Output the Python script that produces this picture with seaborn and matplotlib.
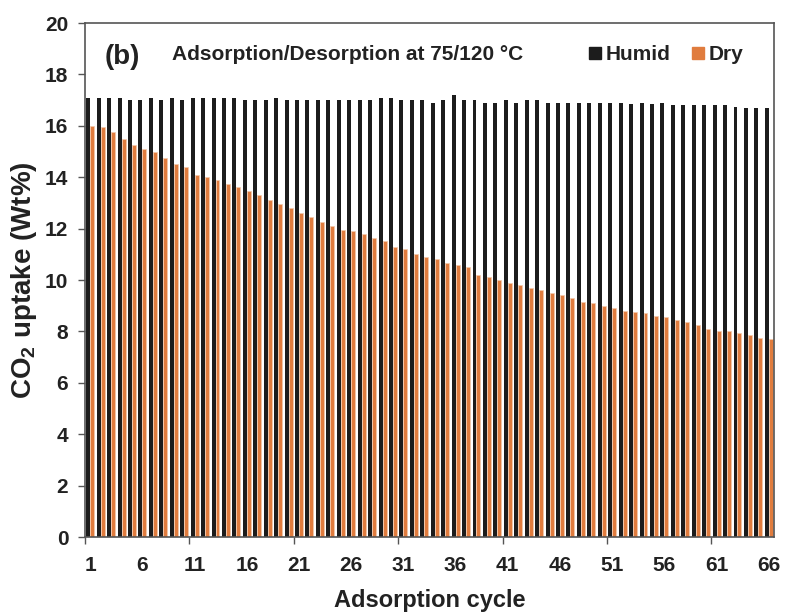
import matplotlib
matplotlib.use("Agg")
import matplotlib.pyplot as plt
from matplotlib.lines import Line2D
import numpy as np
import pandas as pd
import seaborn as sns

# CO2 uptake per adsorption cycle (wt%)
cycles = list(range(1, 67))
humid = [17.1, 17.1, 17.1, 17.1, 17.0, 17.0, 17.1, 17.0, 17.1, 17.0,
         17.1, 17.1, 17.1, 17.1, 17.1, 17.0, 17.0, 17.0, 17.1, 17.0,
         17.0, 17.0, 17.0, 17.0, 17.0, 17.0, 17.0, 17.0, 17.1, 17.1,
         17.0, 17.0, 17.0, 16.9, 17.0, 17.2, 17.0, 17.0, 16.9, 16.9,
         17.0, 16.9, 17.0, 17.0, 16.9, 16.9, 16.9, 16.9, 16.9, 16.9,
         16.9, 16.9, 16.85, 16.9, 16.85, 16.9, 16.8, 16.8, 16.8, 16.8,
         16.8, 16.8, 16.75, 16.7, 16.7, 16.7]
dry = [16.0, 15.95, 15.75, 15.5, 15.25, 15.1, 15.0, 14.75, 14.5, 14.4,
       14.1, 14.0, 13.9, 13.75, 13.6, 13.45, 13.3, 13.1, 12.95, 12.8,
       12.6, 12.45, 12.25, 12.1, 11.95, 11.9, 11.8, 11.65, 11.5, 11.3,
       11.2, 11.0, 10.9, 10.8, 10.65, 10.6, 10.5, 10.2, 10.1, 10.0,
       9.9, 9.8, 9.7, 9.6, 9.5, 9.4, 9.3, 9.15, 9.1, 9.0,
       8.9, 8.8, 8.75, 8.7, 8.6, 8.55, 8.45, 8.35, 8.25, 8.1,
       8.0, 8.0, 7.95, 7.85, 7.75, 7.7]
series = ["Humid", "Dry"]
colors = {"Humid": "#1c1c1c", "Dry": "#e07c3e"}
tick_labels = [str(c) for c in range(1, 67, 5)]

df = pd.DataFrame({
    "cycle": cycles * 2,
    "uptake": humid + dry,
    "series": ["Humid"] * len(cycles) + ["Dry"] * len(cycles),
})

sns.set_theme(style="white")
plt.rcParams["font.family"] = ["Liberation Sans", "DejaVu Sans"]
plt.rcParams["mathtext.fontset"] = "custom"
plt.rcParams["mathtext.rm"] = "Liberation Sans:bold"
plt.rcParams["mathtext.bf"] = "Liberation Sans:bold"

fig = plt.figure(figsize=(7.85, 6.15), dpi=100)
ax = fig.add_axes([0.1083, 0.1268, 0.8777, 0.8358])

sns.barplot(data=df, x="cycle", y="uptake", hue="series", hue_order=series,
            palette=colors, saturation=1, width=0.76, dodge=True,
            errorbar=None, legend=False, ax=ax, linewidth=0)

# light rim on the dry bars
for patch in ax.patches:
    fc = patch.get_facecolor()
    if fc[0] > 0.5:
        patch.set_edgecolor("#f3c9ab")
        patch.set_linewidth(0.5)

ax.set_xlim(-0.5, 65.5)
ax.set_ylim(0, 20)
ax.set_yticks(np.arange(0, 21, 2))
ax.set_xticks(np.arange(0, 66, 5))
ax.set_xticklabels(tick_labels)
ax.set_xticks(np.arange(-0.5, 66, 10), minor=True)
ax.tick_params(axis="x", which="major", length=0, pad=14, labelsize=15)
ax.tick_params(axis="x", which="minor", length=5, width=1, color="#555555",
               direction="out", bottom=True)
ax.tick_params(axis="y", length=5, width=1, color="#555555", direction="out",
               left=True, labelsize=15, pad=7)
for lab in ax.get_xticklabels() + ax.get_yticklabels():
    lab.set_fontweight("bold")
    lab.set_color("#222222")

for side in ["left", "right", "top", "bottom"]:
    ax.spines[side].set_visible(True)
    ax.spines[side].set_color("#555555")
    ax.spines[side].set_linewidth(1.2)

ax.set_xlabel("Adsorption cycle", fontsize=17, fontweight="bold",
              color="#222222", labelpad=10)
ax.set_ylabel(r"CO$_\mathbf{2}$ uptake (Wt%)", fontsize=20, fontweight="bold",
              color="#222222", labelpad=4)

ax.text(0.029, 0.934, "(b)", transform=ax.transAxes, fontsize=20,
        fontweight="bold", color="#222222", va="center", ha="left")
ax.text(0.126, 0.938, "Adsorption/Desorption at 75/120 °C",
        transform=ax.transAxes, fontsize=15, fontweight="bold",
        color="#222222", va="center", ha="left")

handles = [Line2D([], [], marker="s", linestyle="none", markersize=9,
                  color=colors[s]) for s in series]
leg = ax.legend(handles, series, loc="center right",
                bbox_to_anchor=(0.97, 0.938), ncol=2, frameon=False,
                handlelength=0.6, handletextpad=0.2, columnspacing=1.0,
                borderpad=0, prop={"weight": "bold", "size": 15})
for t in leg.get_texts():
    t.set_color("#222222")

fig.savefig("out.png", dpi=100, facecolor="white")
